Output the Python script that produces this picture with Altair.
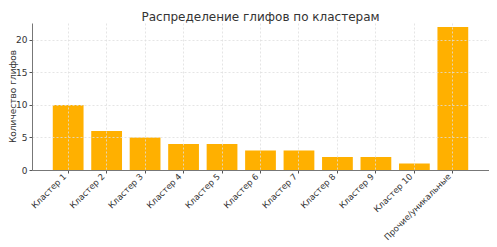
import altair as alt
import pandas as pd

categories = ["Кластер 1", "Кластер 2", "Кластер 3", "Кластер 4", "Кластер 5",
              "Кластер 6", "Кластер 7", "Кластер 8", "Кластер 9", "Кластер 10",
              "Прочие/уникальные"]
counts = [10, 6, 5, 4, 4, 3, 3, 2, 2, 1, 22]
y_ticks = [0, 5, 10, 15, 20]

df = pd.DataFrame({"cat": categories, "n": counts})

FONT = "DejaVu Sans"

chart = alt.Chart(df).mark_bar(color="#FFB000").encode(
    x=alt.X("cat:N", sort=categories,
            scale=alt.Scale(paddingInner=0.2, paddingOuter=0.54),
            axis=alt.Axis(title=None, labelAngle=-45, labelAlign="right",
                          labelBaseline="bottom", labelPadding=5, labelFontSize=8.5,
                          labelFont=FONT, labelColor="#333333", tickSize=3,
                          tickColor="#555555", domainColor="#777777",
                          grid=True, gridColor="#dedede", gridDash=[2, 2],
                          gridWidth=0.8, zindex=1)),
    y=alt.Y("n:Q", scale=alt.Scale(domain=[0, 22.6], nice=False, zero=True),
            axis=alt.Axis(title="Количество глифов", values=y_ticks,
                          titleFont=FONT, titleFontSize=9, titleFontWeight="normal",
                          titleColor="#333333", titleAngle=-90, titleX=-20,
                          titleY=73, titleAlign="center", titleBaseline="middle",
                          labelFontSize=9, labelFont=FONT, labelColor="#333333",
                          labelPadding=2, tickSize=3, tickColor="#555555",
                          domainColor="#777777", grid=True, gridColor="#dedede",
                          gridDash=[2, 2], gridWidth=0.8, zindex=1)),
).properties(
    width=457,
    height=147,
    title=alt.TitleParams("Распределение глифов по кластерам", font=FONT,
                          fontSize=12, fontWeight="normal", color="#333333",
                          anchor="middle", frame="group", baseline="alphabetic",
                          offset=0, dy=10),
    autosize=alt.AutoSizeParams(type="none"),
    padding={"left": 24, "top": 15, "right": 0, "bottom": 76},
).configure_view(stroke=None)

chart.save("out.html", embed_options={"renderer": "svg", "actions": False})
